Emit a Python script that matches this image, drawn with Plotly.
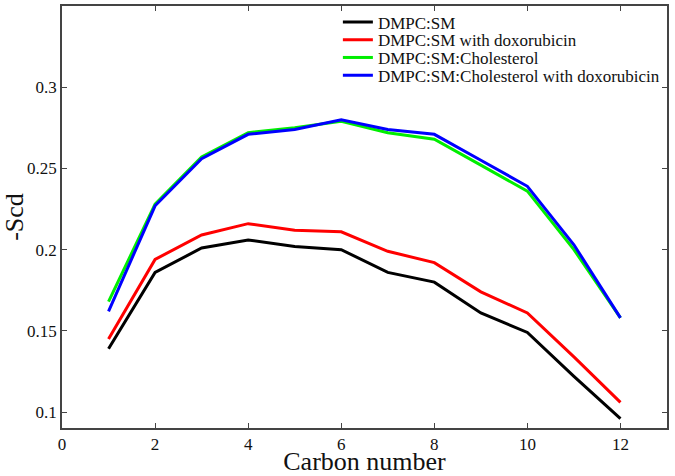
import plotly.graph_objects as go

# carbon positions along the acyl chain
carbon = [1, 2, 3, 4, 5, 6, 7, 8, 9, 10, 11, 12]

# order parameters (-Scd)
dmpc_sm = [0.139, 0.186, 0.201, 0.206, 0.202, 0.200, 0.186, 0.180, 0.161, 0.149, 0.122, 0.096]
dmpc_sm_dox = [0.145, 0.194, 0.209, 0.216, 0.212, 0.211, 0.199, 0.192, 0.174, 0.161, 0.134, 0.106]
dmpc_sm_chol = [0.168, 0.228, 0.257, 0.272, 0.275, 0.279, 0.272, 0.268, 0.252, 0.236, 0.200, 0.158]
dmpc_sm_chol_dox = [0.162, 0.227, 0.256, 0.271, 0.274, 0.280, 0.274, 0.271, 0.255, 0.239, 0.203, 0.158]

series = [
    ("DMPC:SM", dmpc_sm, "#000000"),
    ("DMPC:SM with doxorubicin", dmpc_sm_dox, "#ff0000"),
    ("DMPC:SM:Cholesterol", dmpc_sm_chol, "#00ee00"),
    ("DMPC:SM:Cholesterol with doxorubicin", dmpc_sm_chol_dox, "#0000ff"),
]

font_family = "Liberation Serif"

fig = go.Figure()
# one single-entry legend per trace, so the rows can sit tighter than plotly's default spacing
legend_ids = ["legend", "legend2", "legend3", "legend4"]
legend_y = [0.961, 0.919, 0.877, 0.835]
for (name, values, color), lid in zip(series, legend_ids):
    fig.add_trace(go.Scatter(x=carbon, y=values, name=name, mode="lines", legend=lid,
                             showlegend=True, line=dict(color=color, width=3)))

axis_style = dict(
    showline=True, linecolor="#444444", linewidth=1.5, mirror="ticks",
    ticks="inside", ticklen=5, tickcolor="#444444", showgrid=False, zeroline=False,
    tickfont=dict(family=font_family, size=17, color="#111111"),
)

fig.update_xaxes(range=[0, 13], tickvals=[0, 2, 4, 6, 8, 10, 12],
                 title=dict(text="Carbon number", standoff=0,
                            font=dict(family=font_family, size=26, color="#111111")),
                 **axis_style)
fig.update_yaxes(range=[0.0902, 0.35], tickvals=[0.1, 0.15, 0.2, 0.25, 0.3],
                 ticktext=["0.1", "0.15", "0.2", "0.25", "0.3"],
                 title=dict(text="-Scd", standoff=2,
                            font=dict(family=font_family, size=26, color="#111111")),
                 **axis_style)

legend_style = dict(x=0.456, xanchor="left", yanchor="middle", bgcolor="rgba(0,0,0,0)",
                    font=dict(family=font_family, size=17, color="#111111"), itemwidth=30)

fig.update_layout(
    width=675, height=476,
    margin=dict(l=62, r=8, t=4, b=46),
    showlegend=True,
    plot_bgcolor="white", paper_bgcolor="white",
    font=dict(family=font_family, color="#111111"),
    **{lid: dict(y=y, **legend_style) for lid, y in zip(legend_ids, legend_y)},
)

# drop the page's default body margin so the figure sits at the window corner
fig.write_html("out.html", config={"displayModeBar": False},
               post_script="document.body.style.margin='0';")
